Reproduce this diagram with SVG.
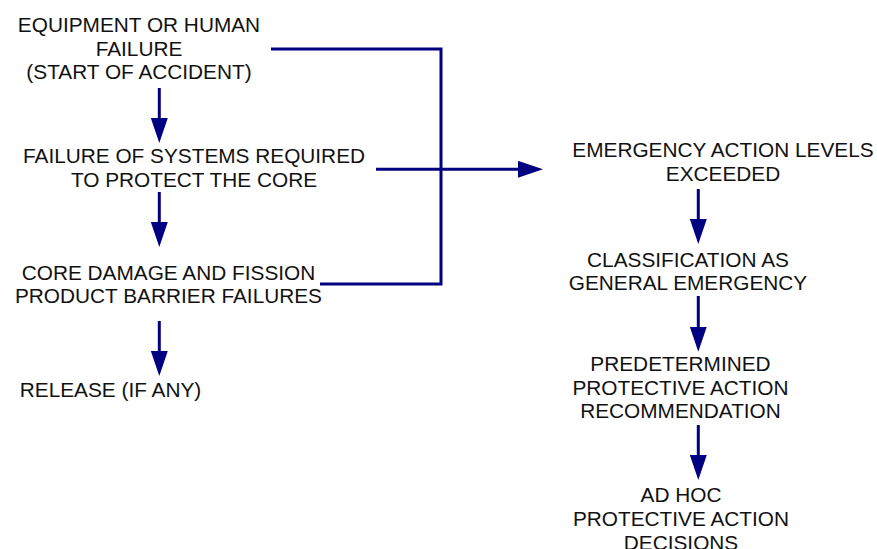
<svg xmlns="http://www.w3.org/2000/svg" width="877" height="549" viewBox="0 0 877 549">
<style>
  text { font-family: "Liberation Sans", Arial, sans-serif; font-size: 20.8px; fill: #111; text-anchor: middle; }
  .ln { stroke: #000080; stroke-width: 3; fill: none; }
</style>
<defs>
  <marker id="ah" markerUnits="userSpaceOnUse" markerWidth="26" markerHeight="18" refX="15" refY="8.5" orient="auto">
    <path d="M0,0 L25,8.5 L0,17 Z" fill="#000080"/>
  </marker>
</defs>
<rect width="877" height="549" fill="#fff"/>
<g id="connectors">
  <line class="ln" x1="159.3" y1="88" x2="159.3" y2="133" marker-end="url(#ah)"/>
  <line class="ln" x1="159.3" y1="192" x2="159.3" y2="237" marker-end="url(#ah)"/>
  <line class="ln" x1="159.3" y1="321" x2="159.3" y2="366" marker-end="url(#ah)"/>
  <polyline class="ln" points="271,49 441,49 441,284 320,284"/>
  <line class="ln" x1="376" y1="169.3" x2="533" y2="169.3" marker-end="url(#ah)"/>
  <line class="ln" x1="698.3" y1="189" x2="698.3" y2="234" marker-end="url(#ah)"/>
  <line class="ln" x1="698.3" y1="296" x2="698.3" y2="341.7" marker-end="url(#ah)"/>
  <line class="ln" x1="698.3" y1="425" x2="698.3" y2="470" marker-end="url(#ah)"/>
</g>
<g id="n1"><text x="139" y="32">EQUIPMENT OR HUMAN</text><text x="139" y="55.5">FAILURE</text><text x="139" y="79">(START OF ACCIDENT)</text></g>
<g id="n2"><text x="194" y="163">FAILURE OF SYSTEMS REQUIRED</text><text x="194" y="187">TO PROTECT THE CORE</text></g>
<g id="n3"><text x="168.5" y="280">CORE DAMAGE AND FISSION</text><text x="168.5" y="303">PRODUCT BARRIER FAILURES</text></g>
<g id="n4"><text x="110.5" y="397">RELEASE (IF ANY)</text></g>
<g id="n5"><text x="723" y="156.7">EMERGENCY ACTION LEVELS</text><text x="723" y="181">EXCEEDED</text></g>
<g id="n6"><text x="688" y="266.7">CLASSIFICATION AS</text><text x="688" y="290">GENERAL EMERGENCY</text></g>
<g id="n7"><text x="680.5" y="370.7">PREDETERMINED</text><text x="680.5" y="395">PROTECTIVE ACTION</text><text x="680.5" y="418">RECOMMENDATION</text></g>
<g id="n8"><text x="681" y="501.7">AD HOC</text><text x="681" y="525.7">PROTECTIVE ACTION</text><text x="681" y="550">DECISIONS</text></g>
</svg>
